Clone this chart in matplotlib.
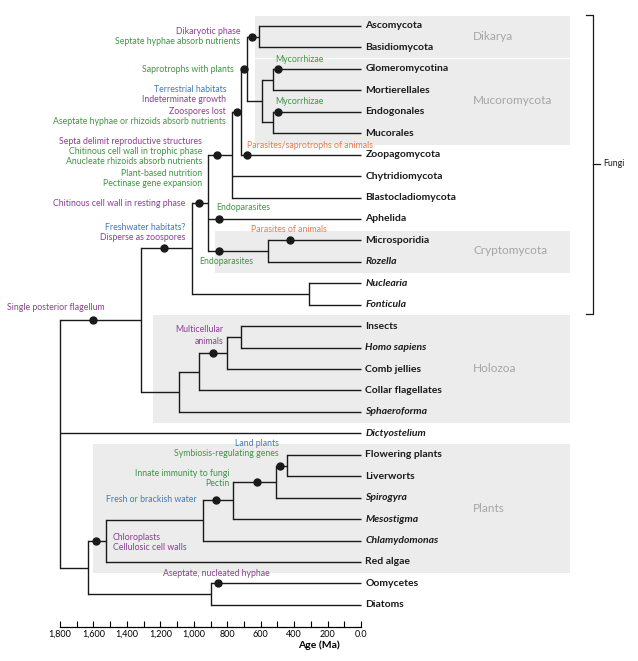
import matplotlib.pyplot as plt
from matplotlib.patches import Rectangle

plt.rcParams['font.family'] = ['Lato', 'DejaVu Sans']

# tips of the tree, top to bottom
leaves = ['Ascomycota', 'Basidiomycota', 'Glomeromycotina', 'Mortierellales',
          'Endogonales', 'Mucorales', 'Zoopagomycota', 'Chytridiomycota',
          'Blastocladiomycota', 'Aphelida', 'Microsporidia', 'Rozella',
          'Nuclearia', 'Fonticula', 'Insects', 'Homo sapiens', 'Comb jellies',
          'Collar flagellates', 'Sphaeroforma', 'Dictyostelium',
          'Flowering plants', 'Liverworts', 'Spirogyra', 'Mesostigma',
          'Chlamydomonas', 'Red algae', 'Oomycetes', 'Diatoms']
italic_leaves = ['Rozella', 'Nuclearia', 'Fonticula', 'Homo sapiens',
                 'Sphaeroforma', 'Dictyostelium', 'Spirogyra', 'Mesostigma',
                 'Chlamydomonas']

# internal nodes: age in Ma, children
clades = {
    'dikarya': (610, ['Ascomycota', 'Basidiomycota']),
    'glom': (528, ['Glomeromycotina', 'Mortierellales']),
    'endo': (528, ['Endogonales', 'Mucorales']),
    'mucoro': (592, ['glom', 'endo']),
    'dm': (682, ['dikarya', 'mucoro']),
    'dmz': (718, ['dm', 'Zoopagomycota']),
    'core': (772, ['dmz', 'Chytridiomycota', 'Blastocladiomycota']),
    'crypto': (556, ['Microsporidia', 'Rozella']),
    'fungi': (915, ['core', 'Aphelida', 'crypto']),
    'nucl': (311, ['Nuclearia', 'Fonticula']),
    'holomycota': (1011, ['fungi', 'nucl']),
    'bilat': (718, ['Insects', 'Homo sapiens']),
    'animals': (801, ['bilat', 'Comb jellies']),
    'choano': (969, ['animals', 'Collar flagellates']),
    'holozoa': (1088, ['choano', 'Sphaeroforma']),
    'opisth': (1316, ['holomycota', 'holozoa']),
    'land': (443, ['Flowering plants', 'Liverworts']),
    'zyg': (508, ['land', 'Spirogyra']),
    'strep': (766, ['zyg', 'Mesostigma']),
    'green': (945, ['strep', 'Chlamydomonas']),
    'plants': (1525, ['green', 'Red algae']),
    'sar': (897, ['Oomycetes', 'Diatoms']),
    'bikont': (1633, ['plants', 'sar']),
    'root': (1800, ['opisth', 'Dictyostelium', 'bikont']),
}

# trait dots: branch (named by the node it leads to) and age in Ma
dot_branch = ['dikarya', 'dm', 'Glomeromycotina', 'Endogonales', 'dmz',
              'Zoopagomycota', 'core', 'fungi', 'Aphelida', 'crypto',
              'Microsporidia', 'holomycota', 'opisth', 'animals', 'land',
              'zyg', 'strep', 'plants', 'Oomycetes']
dot_age = [652, 700, 496, 496, 742, 682, 861, 969, 849, 849, 425, 1178,
           1603, 885, 484, 622, 867, 1585, 855]

PURPLE = '#8d3d93'
GREEN = '#3f9447'
BLUE = '#3a7cc3'
ORANGE = '#ee7a45'

# trait labels: x px, y px, alignment, text, colour
notes = [
    (240, 31, 'right', 'Dikaryotic phase', PURPLE),
    (240, 42, 'right', 'Septate hyphae absorb nutrients', GREEN),
    (234, 69, 'right', 'Saprotrophs with plants', GREEN),
    (226, 89, 'right', 'Terrestrial habitats', BLUE),
    (226, 100, 'right', 'Indeterminate growth', PURPLE),
    (226, 111, 'right', 'Zoospores lost', PURPLE),
    (226, 121, 'right', 'Aseptate hyphae or rhizoids absorb nutrients', GREEN),
    (202, 142, 'right', 'Septa delimit reproductive structures', PURPLE),
    (202, 152, 'right', 'Chitinous cell wall in trophic phase', GREEN),
    (202, 162, 'right', 'Anucleate rhizoids absorb nutrients', GREEN),
    (202, 173, 'right', 'Plant-based nutrition', GREEN),
    (202, 183, 'right', 'Pectinase gene expansion', GREEN),
    (185, 203, 'right', 'Chitinous cell wall in resting phase', PURPLE),
    (185, 227, 'right', 'Freshwater habitats?', BLUE),
    (185, 237, 'right', 'Disperse as zoospores', PURPLE),
    (7, 308, 'left', 'Single posterior flagellum', PURPLE),
    (223, 330, 'right', 'Multicellular', PURPLE),
    (223, 341, 'right', 'animals', PURPLE),
    (275, 59, 'left', 'Mycorrhizae', GREEN),
    (275, 101, 'left', 'Mycorrhizae', GREEN),
    (247, 145, 'left', 'Parasites/saprotrophs of animals', ORANGE),
    (216, 208, 'left', 'Endoparasites', GREEN),
    (199, 261, 'left', 'Endoparasites', GREEN),
    (251, 230, 'left', 'Parasites of animals', ORANGE),
    (279, 443, 'right', 'Land plants', BLUE),
    (279, 454, 'right', 'Symbiosis-regulating genes', GREEN),
    (229, 473, 'right', 'Innate immunity to fungi', GREEN),
    (229, 483, 'right', 'Pectin', GREEN),
    (197, 500, 'right', 'Fresh or brackish water', BLUE),
    (113, 537, 'left', 'Chloroplasts', PURPLE),
    (113, 547, 'left', 'Cellulosic cell walls', PURPLE),
    (163, 573, 'left', 'Aseptate, nucleated hyphae', PURPLE),
]

# shaded groups: name, box (x0, x1, y0, y1 in px), label y px
groups = ['Dikarya', 'Mucoromycota', 'Cryptomycota', 'Holozoa', 'Plants']
group_box = [(255, 570, 16, 58), (255, 570, 59, 145), (215, 570, 231, 273),
             (153, 570, 315, 423), (93, 570, 444, 573)]
group_label_y = [37, 101, 251, 369, 509]


# pixel -> data helpers (x in Ma, y in tip index)
def a(px):
    return (361 - px) / 0.1672


def r(py):
    return (py - 26) / 21.44


fig = plt.figure(figsize=(6.38, 6.61), dpi=100)
ax = fig.add_axes([0, 34 / 661, 1, 627 / 661])
ax.set_xlim(a(0), a(638))
ax.set_ylim(r(627), r(0))

# background boxes
for name, (x0, x1, y0, y1), ly in zip(groups, group_box, group_label_y):
    ax.add_patch(Rectangle((a(x0), r(y0)), a(x1) - a(x0), r(y1) - r(y0),
                           facecolor='#ececec', edgecolor='none', zorder=0))
    ax.text(a(473), r(ly), name, color='#a5a5a5', fontsize=8.5,
            va='center', ha='left')

# draw the tree
ypos = {name: i for i, name in enumerate(leaves)}
lw = 1.0


def draw(name):
    if name not in clades:
        return ypos[name]
    age, kids = clades[name]
    ys = [draw(k) for k in kids]
    for k, yk in zip(kids, ys):
        end = clades[k][0] if k in clades else 0
        ax.plot([age, end], [yk, yk], color='#1a1a1a', lw=lw, zorder=2,
                solid_capstyle='butt')
    ax.plot([age, age], [min(ys), max(ys)], color='#1a1a1a', lw=lw, zorder=2,
            solid_capstyle='projecting')
    ypos[name] = (min(ys) + max(ys)) / 2
    return ypos[name]


draw('root')

ax.plot(dot_age, [ypos[b] for b in dot_branch], 'o', color='#1a1a1a',
        ms=5, zorder=3)

for i, name in enumerate(leaves):
    ax.text(-26, i, name, va='center', ha='left', fontsize=7.5,
            fontweight='bold', color='#1a1a1a',
            style='italic' if name in italic_leaves else 'normal')

for x, y, ha, txt, col in notes:
    ax.text(a(x), r(y), txt, ha=ha, va='center', color=col, fontsize=6.3)

# Fungi bracket
ax.plot([a(586), a(593), a(593), a(586)], [r(15), r(15), r(314), r(314)],
        color='#1a1a1a', lw=0.9)
ax.plot([a(593), a(600)], [r(164), r(164)], color='#1a1a1a', lw=0.9)
ax.text(a(603), r(164), 'Fungi', va='center', ha='left', fontsize=6.3,
        color='#1a1a1a')

# time axis
for s in ['top', 'left', 'right']:
    ax.spines[s].set_visible(False)
ax.spines['bottom'].set_bounds(0, 1800)
ax.spines['bottom'].set_linewidth(0.9)
ax.set_yticks([])
major = list(range(0, 1801, 200))
ax.set_xticks(major)
ax.set_xticks(list(range(100, 1800, 200)), minor=True)
ax.set_xticklabels(['0.0' if v == 0 else f'{v:,}' for v in major])
ax.tick_params(axis='x', which='both', direction='in', length=4, width=0.8,
               labelsize=6.5, pad=2)
ax.set_xlabel('Age (Ma)', fontsize=7.5, fontweight='bold', labelpad=1)

fig.savefig('out.png', dpi=100)
